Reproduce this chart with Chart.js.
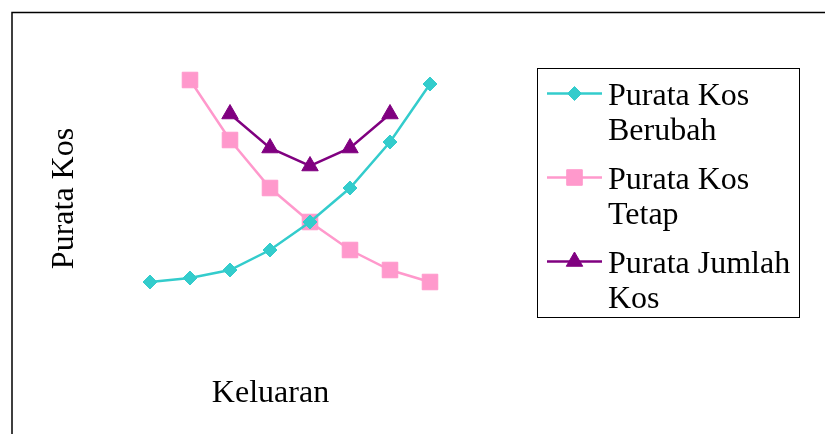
<!DOCTYPE html>
<html>
<head>
<meta charset="utf-8">
<script src="https://cdn.jsdelivr.net/npm/chart.js@4.4.0/dist/chart.umd.min.js"></script>
<style>
  html, body { margin: 0; padding: 0; background: #fff; overflow: hidden; }
  canvas { display: block; }
</style>
</head>
<body>
<canvas id="kos" width="825" height="434"></canvas>
<script>
// Output levels (x categories, unlabelled on the chart)
const outputLevels = ['1', '2', '3', '4', '5', '6', '7', '8'];

// Average cost series
const purataKosBerubah = [0.9, 1.1, 1.5, 2.5, 3.9, 5.6, 7.9, 10.8];
const purataKosTetap   = [null, 11.0, 8.0, 5.6, 3.9, 2.5, 1.5, 0.9];
const purataJumlahKos  = [null, null, 9.3, 7.6, 6.7, 7.6, 9.3, null];

// Legend entries, wrapped over two lines each
const legendLines = [
  ['Purata Kos', 'Berubah'],
  ['Purata Kos', 'Tetap'],
  ['Purata Jumlah', 'Kos']
];
const xTitle = 'Keluaran';
const yTitle = 'Purata Kos';

const SERIF = '"Liberation Serif", "Times New Roman", serif';

function seriesStyle(color, style, radius) {
  return {
    borderColor: color,
    backgroundColor: color,
    pointBackgroundColor: color,
    pointBorderColor: color,
    pointStyle: style,
    pointRadius: radius,
    pointHoverRadius: radius,
    pointBorderWidth: 1,
    borderWidth: 2.5,
    tension: 0,
    spanGaps: false,
    clip: false
  };
}

// Frame, axis titles and boxed legend
const decorations = {
  id: 'decorations',
  beforeDraw(chart) {
    const ctx = chart.ctx;
    ctx.save();
    ctx.strokeStyle = '#000';
    ctx.lineWidth = 1.5;
    ctx.beginPath();
    ctx.moveTo(12, 434);
    ctx.lineTo(12, 12.5);
    ctx.lineTo(825, 12.5);
    ctx.stroke();
    ctx.restore();
  },
  afterDraw(chart) {
    const ctx = chart.ctx;
    ctx.save();
    ctx.fillStyle = '#000';
    ctx.font = '32px ' + SERIF;

    // x title
    ctx.textAlign = 'center';
    ctx.textBaseline = 'alphabetic';
    ctx.fillText(xTitle, 270.5, 401.5);

    // y title, rotated
    ctx.save();
    ctx.translate(72.5, 198.5);
    ctx.rotate(-Math.PI / 2);
    ctx.fillText(yTitle, 0, 0);
    ctx.restore();

    // legend box
    ctx.strokeStyle = '#000';
    ctx.lineWidth = 1;
    ctx.strokeRect(537.5, 68.5, 262, 249);

    const rowY = [93.5, 177.5, 261.5];
    chart.data.datasets.forEach((ds, i) => {
      const y = rowY[i];
      ctx.strokeStyle = ds.borderColor;
      ctx.lineWidth = 2.5;
      ctx.beginPath();
      ctx.moveTo(547, y);
      ctx.lineTo(602, y);
      ctx.stroke();
      ctx.fillStyle = ds.pointBackgroundColor;
      ctx.strokeStyle = ds.pointBorderColor;
      ctx.lineWidth = 1;
      Chart.helpers.drawPoint(ctx, {
        pointStyle: ds.pointStyle,
        radius: ds.pointRadius,
        rotation: 0,
        borderWidth: 1
      }, 574.5, y);

      ctx.fillStyle = '#000';
      ctx.textAlign = 'left';
      ctx.textBaseline = 'alphabetic';
      legendLines[i].forEach((line, j) => {
        ctx.fillText(line, 608, y + 11 + j * 35.5);
      });
    });
    ctx.restore();
  }
};

new Chart(document.getElementById('kos'), {
  type: 'line',
  data: {
    labels: outputLevels,
    datasets: [
      Object.assign({ label: legendLines[0].join(' '), data: purataKosBerubah }, seriesStyle('#33CCCC', 'rectRot', 7)),
      Object.assign({ label: legendLines[1].join(' '), data: purataKosTetap }, seriesStyle('#FF99CC', 'rect', 11)),
      Object.assign({ label: legendLines[2].join(' '), data: purataJumlahKos }, seriesStyle('#800080', 'triangle', 9.5))
    ]
  },
  options: {
    responsive: false,
    animation: false,
    events: [],
    layout: { padding: { left: 150, right: 395, top: 60, bottom: 134 } },
    plugins: {
      legend: { display: false },
      tooltip: { enabled: false },
      title: { display: false }
    },
    scales: {
      x: { type: 'category', display: false, offset: false },
      y: { display: false, min: 0, max: 12 }
    }
  },
  plugins: [decorations]
});
</script>
</body>
</html>
